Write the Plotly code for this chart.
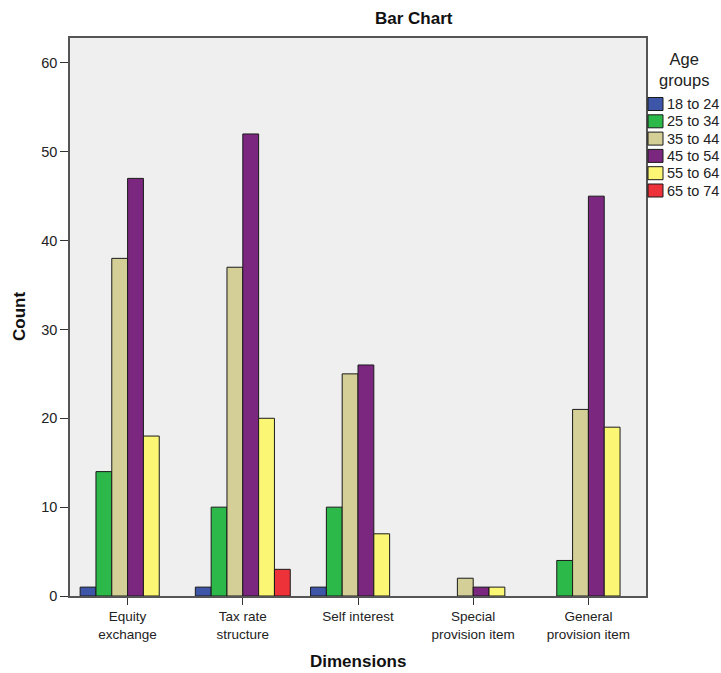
import plotly.graph_objects as go

categories = ["Equity exchange", "Tax rate structure", "Self interest",
              "Special provision item", "General provision item"]
tick_labels = ["Equity<br>exchange", "Tax rate<br>structure", "Self interest",
               "Special<br>provision item", "General<br>provision item"]
age_groups = ["18 to 24", "25 to 34", "35 to 44", "45 to 54", "55 to 64", "65 to 74"]
colors = ["#3D56A8", "#2DB84A", "#D4CF97", "#7B277F", "#FBF774", "#EE3239"]

counts_18_24 = [1, 1, 1, 0, 0]
counts_25_34 = [14, 10, 10, 0, 4]
counts_35_44 = [38, 37, 25, 2, 21]
counts_45_54 = [47, 52, 26, 1, 45]
counts_55_64 = [18, 20, 7, 1, 19]
counts_65_74 = [0, 3, 0, 0, 0]

series = [counts_18_24, counts_25_34, counts_35_44,
          counts_45_54, counts_55_64, counts_65_74]

FONT = "Liberation Sans, Arial, sans-serif"

L, T, PW, PH = 70, 38, 576, 558

def px_x(x):
    return (x - L) / PW

def px_y(y):
    return 1 - (y - T) / PH

fig = go.Figure()
for name, col, vals in zip(age_groups, colors, series):
    fig.add_trace(go.Bar(
        x=categories,
        y=[v if v > 0 else None for v in vals],
        name=name,
        marker=dict(color=col, line=dict(color="#1a1a1a", width=1)),
        showlegend=False,
    ))

# Manual legend (SPSS style: tight swatch + text)
ann = []
shapes = []
lx0, lx1 = 648, 663
ly0 = 97.5
step = 17.3
for i, (name, col) in enumerate(zip(age_groups, colors)):
    y0 = ly0 + i * step
    shapes.append(dict(type="rect", xref="paper", yref="paper",
                       x0=px_x(lx0), x1=px_x(lx1),
                       y0=px_y(y0), y1=px_y(y0 + 13),
                       fillcolor=col, line=dict(color="#1a1a1a", width=1)))
    ann.append(dict(text=name, xref="paper", yref="paper",
                    x=px_x(665), y=px_y(y0 + 6.5),
                    xanchor="left", yanchor="middle", showarrow=False,
                    font=dict(family=FONT, size=14.5, color="#222")))
ann.append(dict(text="Age<br>groups", xref="paper", yref="paper",
                x=px_x(684), y=px_y(69),
                xanchor="center", yanchor="middle", showarrow=False,
                font=dict(family=FONT, size=16.5, color="#222")))
ann.append(dict(text="<b>Bar Chart</b>", xref="paper", yref="paper",
                x=px_x(414), y=px_y(19),
                xanchor="center", yanchor="middle", showarrow=False,
                font=dict(family=FONT, size=17, color="#111")))
ann.append(dict(text="<b>Dimensions</b>", xref="paper", yref="paper",
                x=px_x(358), y=px_y(662),
                xanchor="center", yanchor="middle", showarrow=False,
                font=dict(family=FONT, size=17, color="#111")))
ann.append(dict(text="<b>Count</b>", xref="paper", yref="paper",
                x=px_x(19), y=px_y(317), textangle=-90,
                xanchor="center", yanchor="middle", showarrow=False,
                font=dict(family=FONT, size=17, color="#111")))

fig.update_layout(
    width=721, height=673,
    margin=dict(l=L, r=721 - L - PW, t=T, b=673 - T - PH),
    paper_bgcolor="white",
    plot_bgcolor="#EFEFEF",
    barmode="group",
    bargap=0.176,
    bargroupgap=0,
    font=dict(family=FONT, size=13, color="#333"),
    annotations=ann,
    shapes=shapes,
)
fig.update_xaxes(
    tickvals=categories, ticktext=tick_labels, automargin=False,
    showline=True, linecolor="#555", linewidth=1.5, mirror=True,
    ticks="outside", ticklen=7, tickcolor="#333", tickwidth=1,
    showgrid=False, zeroline=False,
    tickfont=dict(family=FONT, size=13.5, color="#222"),
)
fig.update_yaxes(
    range=[0, 62.8], tickvals=[0, 10, 20, 30, 40, 50, 60], automargin=False,
    showline=True, linecolor="#555", linewidth=1.5, mirror=True,
    ticks="outside", ticklen=8, tickcolor="#333", tickwidth=1,
    showgrid=False, zeroline=False,
    tickfont=dict(family=FONT, size=14.5, color="#222"),
)

fig.write_html("out.html",
               config={"displayModeBar": False},
               post_script="document.body.style.margin='0';document.body.style.overflow='hidden';")
